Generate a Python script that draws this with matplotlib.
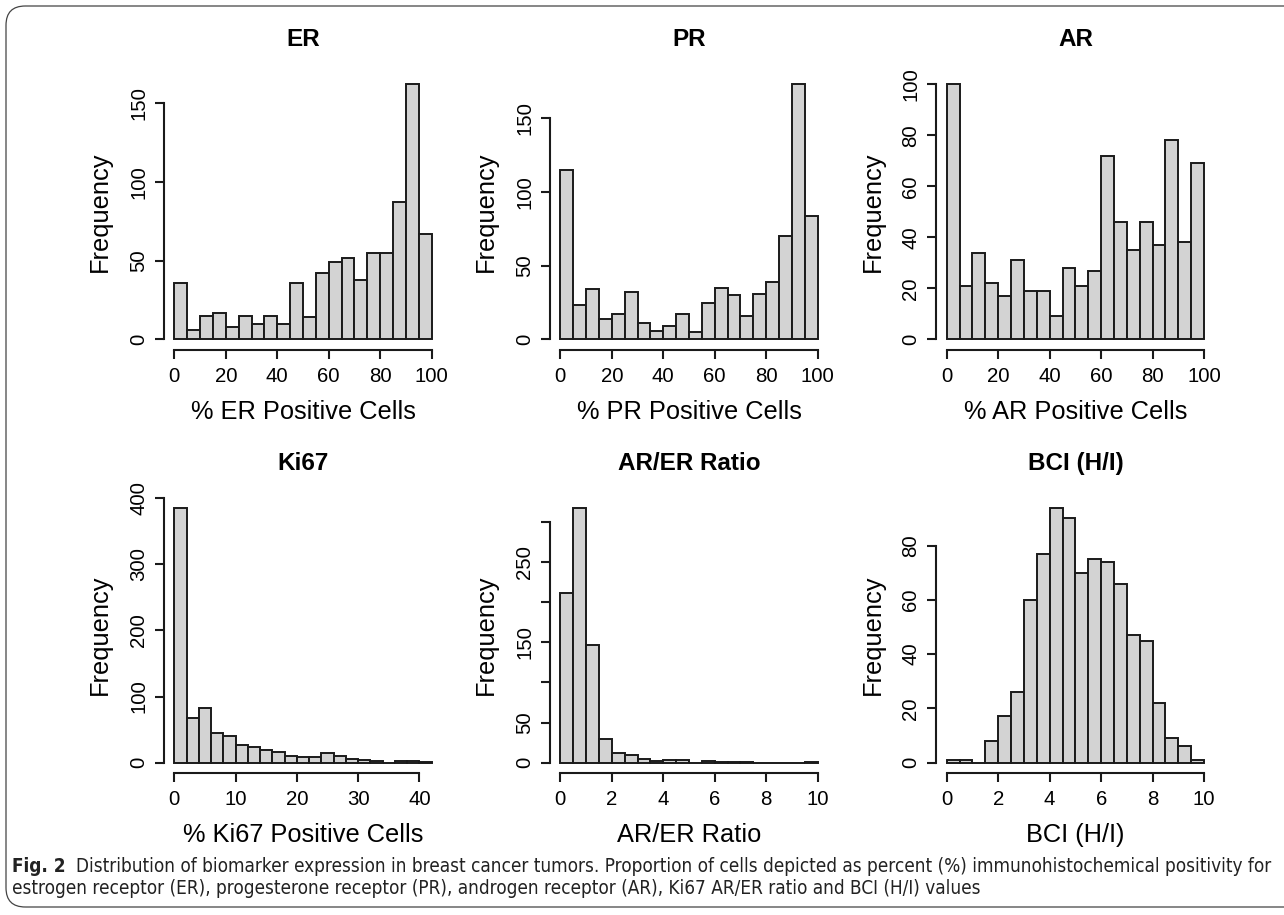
import numpy as np
import matplotlib
matplotlib.use("Agg")
import matplotlib.pyplot as plt
from matplotlib.patches import FancyBboxPatch

plt.rcParams['font.family'] = ['Liberation Sans', 'DejaVu Sans']

W, H = 1284, 915

# bin counts (20 or 21 bins each)
er_counts = [36, 6, 15, 17, 8, 15, 10, 15, 10, 36, 14, 42, 49, 52, 38, 55, 55, 87, 162, 67]
pr_counts = [115, 23, 34, 14, 17, 32, 11, 6, 9, 17, 5, 25, 35, 30, 16, 31, 39, 70, 173, 84]
ar_counts = [100, 21, 34, 22, 17, 31, 19, 19, 9, 28, 21, 27, 72, 46, 35, 46, 37, 78, 38, 69]
ki67_counts = [386, 67, 83, 45, 41, 27, 23, 19, 16, 10, 9, 9, 14, 10, 5, 4, 2, 0, 2, 2, 1]
arer_counts = [212, 318, 147, 30, 12, 10, 5, 2, 3, 3, 0, 2, 1, 1, 1, 0, 0, 0, 0, 1]
bci_counts = [1, 1, 0, 8, 17, 26, 60, 77, 94, 90, 70, 75, 74, 66, 47, 45, 22, 9, 6, 1]

titles = ["ER", "PR", "AR", "Ki67", "AR/ER Ratio", "BCI (H/I)"]
xlabels = ["% ER Positive Cells", "% PR Positive Cells", "% AR Positive Cells",
           "% Ki67 Positive Cells", "AR/ER Ratio", "BCI (H/I)"]
bin_starts = [0, 0, 0, 0, 0, 0]
bin_widths = [5, 5, 5, 2, 0.5, 0.5]
xticks = [[0, 20, 40, 60, 80, 100]] * 3 + [[0, 10, 20, 30, 40], [0, 2, 4, 6, 8, 10], [0, 2, 4, 6, 8, 10]]
yticks = [[0, 50, 100, 150], [0, 50, 100, 150], [0, 20, 40, 60, 80, 100],
          [0, 100, 200, 300, 400], [0, 50, 100, 150, 200, 250, 300], [0, 20, 40, 60, 80]]
ytick_labels = [["0", "50", "100", "150"], ["0", "50", "100", "150"],
                ["0", "20", "40", "60", "80", "100"], ["0", "100", "200", "300", "400"],
                ["0", "50", "", "150", "", "250", ""], ["0", "20", "40", "60", "80"]]
all_counts = [er_counts, pr_counts, ar_counts, ki67_counts, arer_counts, bci_counts]

caption_bold = "Fig. 2"
caption_line1 = ("Distribution of biomarker expression in breast cancer tumors. Proportion of cells "
                 "depicted as percent (%) immunohistochemical positivity for")
caption_line2 = ("estrogen receptor (ER), progesterone receptor (PR), androgen receptor (AR), "
                 "Ki67 AR/ER ratio and BCI (H/I) values")

fig = plt.figure(figsize=(W / 100, H / 100), dpi=100)

# plot regions in pixels (left, top), same size for all panels
lefts = [164, 550, 936.4]
tops = [74.2, 497.4]
pw, ph = 278, 275.4

for i in range(6):
    r, c = divmod(i, 3)
    ax = fig.add_axes([lefts[c] / W, 1 - (tops[r] + ph) / H, pw / W, ph / H])
    counts = np.array(all_counts[i])
    edges = bin_starts[i] + bin_widths[i] * np.arange(len(counts) + 1)
    ax.bar(edges[:-1], counts, width=bin_widths[i], align='edge',
           color='#d3d3d3', edgecolor='#1a1a1a', linewidth=1.4)
    lo, hi = edges[0], edges[-1]
    ax.set_xlim(lo - 0.04 * (hi - lo), hi + 0.04 * (hi - lo))
    ymax = counts.max()
    ax.set_ylim(-0.04 * ymax, 1.04 * ymax)
    for s in ['top', 'right']:
        ax.spines[s].set_visible(False)
    for s in ['left', 'bottom']:
        ax.spines[s].set_linewidth(1.5)
        ax.spines[s].set_color('#1a1a1a')
    ax.spines['bottom'].set_bounds(xticks[i][0], xticks[i][-1])
    ax.spines['left'].set_bounds(yticks[i][0], yticks[i][-1])
    ax.set_xticks(xticks[i])
    ax.set_yticks(yticks[i])
    ax.set_yticklabels(ytick_labels[i], rotation=90, va='center')
    ax.tick_params(length=6.5, width=1.5, color='#1a1a1a', labelsize=14.7)
    ax.tick_params(axis='x', pad=6)
    ax.tick_params(axis='y', pad=5)
    ax.set_xlabel(xlabels[i], fontsize=18.3, labelpad=10)
    ax.set_ylabel("Frequency", fontsize=18.3, labelpad=12)
    ax.set_title(titles[i], fontsize=17.5, fontweight='bold', pad=20)
    ax.patch.set_visible(False)

# frame around the figure
frame = FancyBboxPatch((6 / W, 8 / H), 1400 / W, (H - 14) / H,
                       boxstyle="round,pad=0,rounding_size=0.015",
                       transform=fig.transFigure, fill=False,
                       edgecolor='#444444', linewidth=0.9, mutation_aspect=W / H)
fig.patches.append(frame)

# caption, condensed sans stretched to the reference line width
cap_kw = dict(family='DejaVu Sans', stretch='condensed', va='center', color='#222222')
renderer = fig.canvas.get_renderer()
size = 12.0
t_bold = fig.text(12 / W, 1 - 866 / H, caption_bold, fontsize=size, fontweight='bold', **cap_kw)
t1 = fig.text(0, 1 - 866 / H, caption_line1, fontsize=size, **cap_kw)
wb = t_bold.get_window_extent(renderer).width
w1 = t1.get_window_extent(renderer).width
size = size * (1272 - 12 - 10) / (wb + w1)
t_bold.set_fontsize(size)
t1.set_fontsize(size)
wb = t_bold.get_window_extent(renderer).width
t1.set_x((12 + wb + 10) / W)
fig.text(12 / W, 1 - 889 / H, caption_line2, fontsize=size, **cap_kw)

fig.savefig("out.png", dpi=100)
